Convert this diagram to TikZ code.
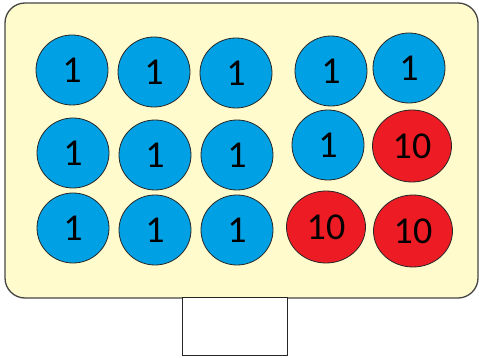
\documentclass[tikz,border=0pt]{standalone}
\usepackage{fontspec}
\setmainfont{Carlito}
\usetikzlibrary{shapes.geometric}
\definecolor{boardfill}{RGB}{255,251,204}
\definecolor{boardline}{RGB}{70,70,70}
\definecolor{coinblue}{RGB}{0,161,228}
\definecolor{coinred}{RGB}{237,28,36}
\tikzset{
  board/.style={draw=boardline, line width=1.3pt, fill=boardfill, rounded corners=20pt},
  coin/.style={ellipse, draw=black!85, line width=0.8pt, inner sep=0pt, font=\fontsize{38}{38}\selectfont},
  one/.style={coin, fill=coinblue, minimum width=72pt, minimum height=70pt},
  ten/.style={coin, fill=coinred, minimum width=79pt, minimum height=72pt},
  slot/.style={draw=black!85, line width=1pt, fill=white}
}
\begin{document}
\begin{tikzpicture}[x=1pt,y=-1pt]
\useasboundingbox (0,0) rectangle (479,358);
\draw[board] (5,3) rectangle (478,298);
\node[slot, minimum width=105pt, minimum height=58pt, inner sep=0pt] (slot) at (234.5,326) {};
% row 1
\node[one] (a1) at (72,70) {1};
\node[one] (a2) at (154,72) {1};
\node[one] (a3) at (236,73) {1};
\node[one] (a4) at (331,71) {1};
\node[one] (a5) at (409,68) {1};
% row 2
\node[one] (b1) at (73,153) {1};
\node[one] (b2) at (155,155) {1};
\node[one] (b3) at (237,155) {1};
\node[one] (b4) at (328,145) {1};
\node[ten] (b5) at (412,146) {10};
% row 3
\node[one] (c1) at (73,228) {1};
\node[one] (c2) at (155,230) {1};
\node[one] (c3) at (237,230) {1};
\node[ten] (c4) at (326,227) {10};
\node[ten] (c5) at (413,231) {10};
\end{tikzpicture}
\end{document}
